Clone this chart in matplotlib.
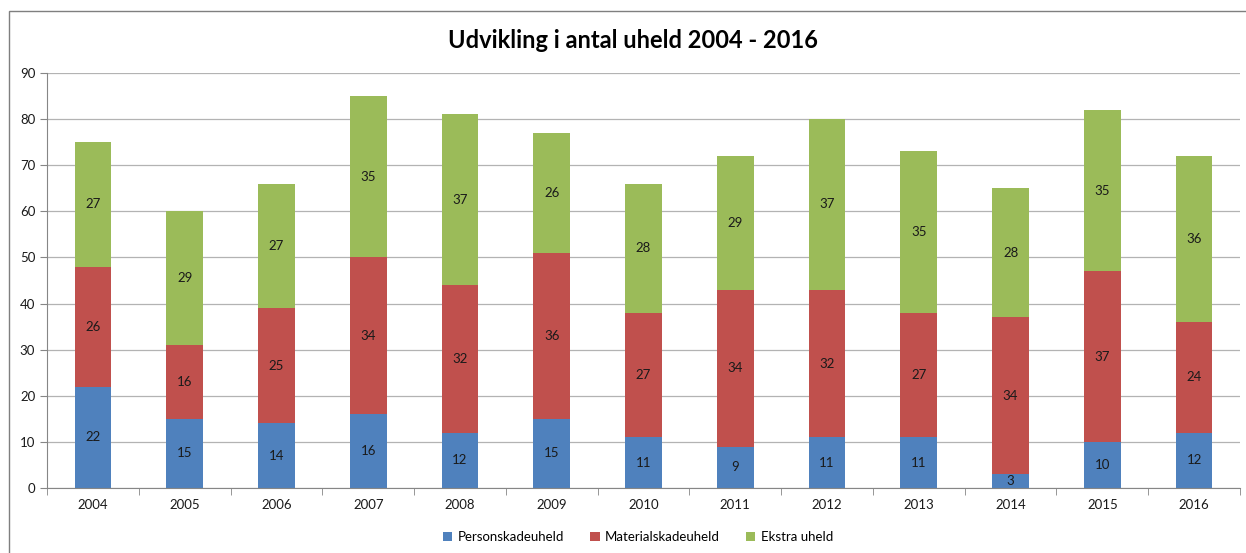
import numpy as np
import matplotlib.pyplot as plt
from matplotlib.patches import Rectangle

plt.rcParams['font.family'] = ['Lato', 'DejaVu Sans']

# data
years = ['2004', '2005', '2006', '2007', '2008', '2009', '2010',
         '2011', '2012', '2013', '2014', '2015', '2016']
person = [22, 15, 14, 16, 12, 15, 11, 9, 11, 11, 3, 10, 12]
materiel = [26, 16, 25, 34, 32, 36, 27, 34, 32, 27, 34, 37, 24]
ekstra = [27, 29, 27, 35, 37, 26, 28, 29, 37, 35, 28, 35, 36]

series = [('Personskadeuheld', person, '#4F81BD'),
          ('Materialskadeuheld', materiel, '#C0504D'),
          ('Ekstra uheld', ekstra, '#9BBB59')]

fig = plt.figure(figsize=(12.46, 5.53), dpi=100)
ax = fig.add_axes([47 / 1246, 1 - 488 / 553, 1193 / 1246, 415 / 553])

# chart border (Excel style frame)
fig.patches.append(Rectangle((9 / 1246, -0.01), 1.05, 1 - 11 / 553 + 0.01,
                             transform=fig.transFigure, fill=False,
                             edgecolor='#7f7f7f', linewidth=1.0))

x = np.arange(len(years))
bottom = np.zeros(len(years))
for name, vals, col in series:
    vals = np.array(vals)
    bars = ax.bar(x, vals, 0.4, bottom=bottom, color=col, label=name, zorder=2)
    for xi, b, v in zip(x, bottom, vals):
        ax.text(xi, b + v / 2, str(v), ha='center', va='center',
                fontsize=9.5, color='#1a1a1a', zorder=3)
    bottom = bottom + vals

ax.set_xlim(-0.5, len(years) - 0.5)
ax.set_ylim(0, 90)
ax.set_yticks(range(0, 91, 10))
ax.set_xticks(x)
ax.set_xticklabels(years)
ax.set_xticks(np.arange(-0.5, len(years)), minor=True)
ax.tick_params(axis='x', which='major', length=0, labelsize=9.5, pad=8, colors='#1a1a1a')
ax.tick_params(axis='x', which='minor', length=5, color='#868686', direction='out')
ax.tick_params(axis='y', length=5, color='#868686', labelsize=9.5, colors='#1a1a1a')
ax.yaxis.grid(True, color='#b3b3b3', linewidth=0.9, zorder=0)
ax.set_axisbelow(True)
for s in ['top', 'right']:
    ax.spines[s].set_visible(False)
ax.spines['left'].set_color('#868686')
ax.spines['bottom'].set_color('#868686')

fig.text(0.508, 1 - 40 / 553, 'Udvikling i antal uheld 2004 - 2016',
         ha='center', va='center', fontsize=17, fontweight='bold')

fig.legend(loc='center', bbox_to_anchor=(0.512, 1 - 537 / 553), ncol=3,
           frameon=False, fontsize=9.5, handlelength=0.7, handleheight=0.7,
           columnspacing=2.0, handletextpad=0.4)

fig.savefig('out.png', dpi=100)
